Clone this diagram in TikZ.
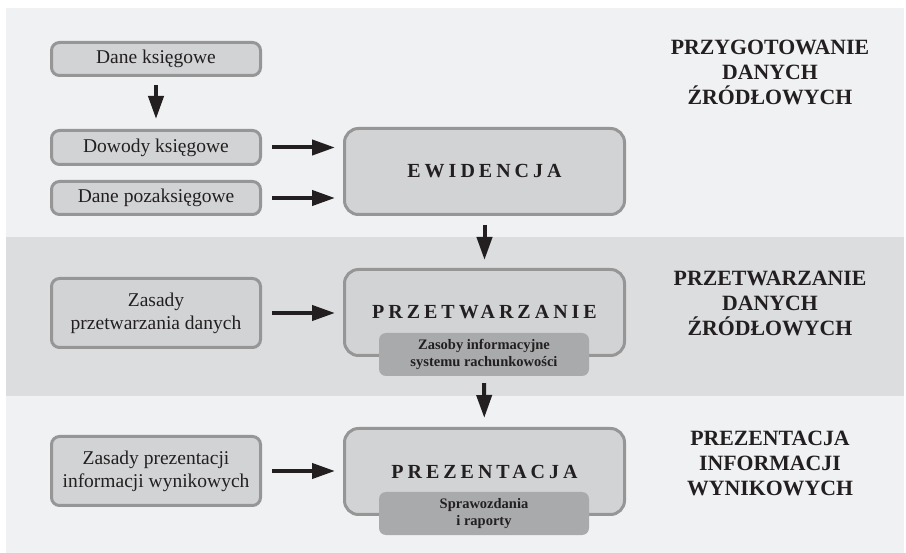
\documentclass[tikz,border=0pt]{standalone}
\usepackage{fontspec}
\setmainfont{Liberation Serif}
\newfontfamily\rozstaw[LetterSpace=20]{Liberation Serif}
\usetikzlibrary{arrows.meta}
\definecolor{tlo}{HTML}{F0F1F3}
\definecolor{pas}{HTML}{DCDDDF}
\definecolor{pole}{HTML}{D2D3D5}
\definecolor{ramka}{HTML}{969696}
\definecolor{dolne}{HTML}{A9AAAC}
\definecolor{napis}{HTML}{231F20}

\begin{document}
\begin{tikzpicture}[x=1pt,y=-1pt,
  src/.style={draw=ramka,line width=3pt,fill=pole,rounded corners=8pt,
    minimum width=209pt,minimum height=33pt,align=center,text=napis,
    font=\fontsize{19.5}{23}\selectfont},
  big/.style={draw=ramka,line width=3pt,fill=pole,rounded corners=14pt,
    minimum width=280pt,minimum height=86pt,text=napis,
    font=\fontsize{20}{24}\rozstaw\bfseries},
  sub/.style={fill=dolne,rounded corners=7pt,minimum width=210pt,
    minimum height=43pt,align=center,text=napis,
    font=\fontsize{14.5}{16.5}\bfseries},
  etap/.style={align=center,text=napis,font=\fontsize{21.8}{25}\bfseries},
  arr/.style={-{Triangle[length=23pt,width=15pt]},line width=4pt,draw=napis}]
  % tlo i pas srodkowy
  \useasboundingbox (0,0) rectangle (906,553);
  \fill[tlo] (6,8) rectangle (904,553);
  \fill[pas] (6,237) rectangle (904,396);

  % dane zrodlowe
  \node[src] (DK) at (156,59) {Dane księgowe};
  \node[src,minimum height=34pt] (DW) at (156,147.5) {Dowody księgowe};
  \node[src] (DP) at (156,198) {Dane pozaksięgowe};
  \node[src,minimum height=69pt] (ZP) at (156,313) {Zasady\\przetwarzania danych};
  \node[src,minimum height=69pt] (ZW) at (156,471) {Zasady prezentacji\\informacji wynikowych};

  % etapy
  \node[big] (EW) at (484.5,171.5) {EWIDENCJA};
  \node[big] (PT) at (484.5,312.5) {PRZETWARZANIE};
  \node[sub] (ZI) at (484,354.5) {Zasoby informacyjne\\systemu rachunkowości};
  \node[big] (PR) at (484.5,471.5) {PREZENTACJA};
  \node[sub] (SR) at (484,513.5) {Sprawozdania\\i raporty};

  % opisy po prawej
  \node[etap] (E1) at (770,72) {PRZYGOTOWANIE\\DANYCH\\ŹRÓDŁOWYCH};
  \node[etap] (E2) at (770,303) {PRZETWARZANIE\\DANYCH\\ŹRÓDŁOWYCH};
  \node[etap] (E3) at (770,463) {PREZENTACJA\\INFORMACJI\\WYNIKOWYCH};

  % strzalki
  \draw[arr,shorten <=8pt,shorten >=10pt] (DK) -- (DW);
  \draw[arr,shorten <=10pt,shorten >=8pt] (DW.east) -- (DW.east -| EW.west);
  \draw[arr,shorten <=10pt,shorten >=8pt] (DP.east) -- (DP.east -| EW.west);
  \draw[arr,shorten <=10pt,shorten >=8pt] (ZP.east) -- (ZP.east -| PT.west);
  \draw[arr,shorten <=10pt,shorten >=8pt] (ZW.east) -- (ZW.east -| PR.west);
  \draw[arr,shorten <=9pt,shorten >=8pt] (EW) -- (PT);
  \draw[arr,shorten <=7pt,shorten >=9pt] (ZI) -- (PR);
\end{tikzpicture}
\end{document}
